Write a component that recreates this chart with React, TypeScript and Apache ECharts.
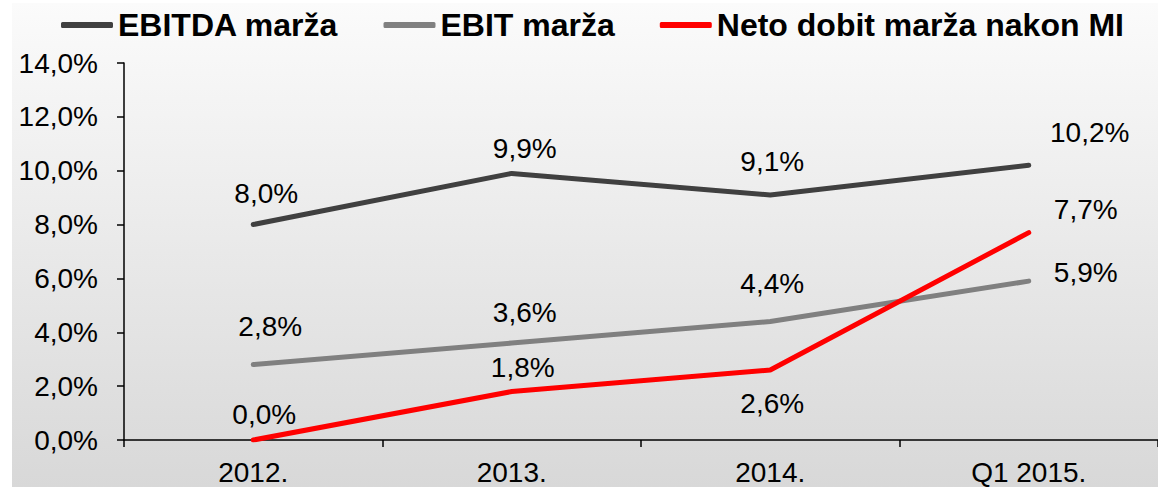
import React, { useEffect, useRef } from "react";
import * as echarts from "echarts";

const categories = ["2012.", "2013.", "2014.", "Q1 2015."];
const ebitda = [8.0, 9.9, 9.1, 10.2];
const ebit = [2.8, 3.6, 4.4, 5.9];
const neto = [0.0, 1.8, 2.6, 7.7];
const seriesNames = ["EBITDA marža", "EBIT marža", "Neto dobit marža nakon MI"];
const yTicks = [0, 2, 4, 6, 8, 10, 12, 14];

// label offsets (pixels) relative to each point
const ebitdaOffsets = [[13, -31], [13, -25], [2, -33], [61, -33]];
const ebitOffsets = [[17, -38], [13, -31], [2, -38], [57, -9]];
const netoOffsets = [[11, -26], [11, -24], [2, 34], [57, -23]];

const fmt = (v: number) => v.toFixed(1).replace(".", ",") + "%";

function mk(name: string, values: number[], offsets: number[][], color: string) {
  return {
    name,
    type: "line",
    data: values.map((v, i) => ({
      value: v,
      label: { offset: offsets[i] },
    })),
    symbol: "circle",
    symbolSize: 1,
    showSymbol: true,
    itemStyle: { color },
    lineStyle: { color, width: 5, cap: "round" },
    label: {
      show: true,
      position: "inside",
      formatter: (p: any) => fmt(p.value),
      fontSize: 28,
      color: "#000",
      fontFamily: "Liberation Sans, Arial, sans-serif",
    },
    z: 3,
  };
}

export default function App() {
  const ref = useRef<HTMLDivElement>(null);
  useEffect(() => {
    document.body.style.margin = "0";
    const chart = echarts.init(ref.current!, undefined, { renderer: "svg" });
    chart.setOption({
      animation: false,
      textStyle: { fontFamily: "Liberation Sans, Arial, sans-serif" },
      graphic: [
        {
          type: "rect",
          left: 12,
          top: 3,
          shape: { width: 1146, height: 484 },
          z: -10,
          silent: true,
          style: {
            fill: new echarts.graphic.LinearGradient(0, 0, 0, 1, [
              { offset: 0, color: "#fbfbfb" },
              { offset: 1, color: "#d8d8d8" },
            ]),
          },
        },
      ],
      legend: {
        left: 56,
        top: 4,
        itemGap: 45,
        itemWidth: 52,
        itemHeight: 6,
        icon: "roundRect",
        data: seriesNames,
        textStyle: {
          fontSize: 32,
          fontWeight: "bold",
          color: "#000",
          fontFamily: "Liberation Sans, Arial, sans-serif",
        },
      },
      grid: { left: 124, right: -28, top: 63, bottom: 47, containLabel: false },
      xAxis: {
        type: "category",
        data: categories,
        boundaryGap: true,
        axisLine: { lineStyle: { color: "#000", width: 1.5 } },
        axisTick: { show: true, length: 7, lineStyle: { color: "#000", width: 1.5 } },
        axisLabel: { fontSize: 28, color: "#000", margin: 18 },
      },
      yAxis: {
        type: "value",
        min: yTicks[0],
        max: yTicks[yTicks.length - 1],
        interval: 2,
        axisLine: { show: true, lineStyle: { color: "#000", width: 1.5 } },
        axisTick: { show: true, length: 7, lineStyle: { color: "#000", width: 1.5 } },
        splitLine: { show: false },
        axisLabel: {
          fontSize: 28,
          color: "#000",
          margin: 26,
          formatter: (v: number) => fmt(v),
        },
      },
      series: [
        mk(seriesNames[0], ebitda, ebitdaOffsets, "#404040"),
        mk(seriesNames[1], ebit, ebitOffsets, "#808080"),
        mk(seriesNames[2], neto, netoOffsets, "#ff0000"),
      ],
    });
    return () => chart.dispose();
  }, []);
  return <div ref={ref} style={{ width: 1158, height: 487 }} />;
}
